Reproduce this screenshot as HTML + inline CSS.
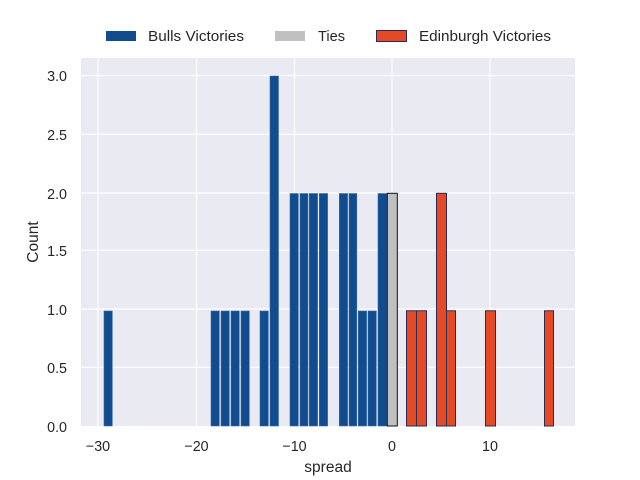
<!DOCTYPE html>
<html><head><style>body{margin:0;background:#fff}svg{display:block}</style></head><body>
<svg width="640" height="480" xmlns="http://www.w3.org/2000/svg" font-family="Liberation Sans, sans-serif">
<rect x="81" y="58" width="494" height="368" fill="#eaeaf2"/>
<g stroke="#fff" stroke-width="1.2">
<line x1="98" y1="58" x2="98" y2="426"/><line x1="196.5" y1="58" x2="196.5" y2="426"/><line x1="294.5" y1="58" x2="294.5" y2="426"/><line x1="392" y1="58" x2="392" y2="426"/><line x1="490" y1="58" x2="490" y2="426"/>
<line x1="81" y1="367.3" x2="575" y2="367.3"/><line x1="81" y1="309" x2="575" y2="309"/><line x1="81" y1="250.3" x2="575" y2="250.3"/><line x1="81" y1="193" x2="575" y2="193"/><line x1="81" y1="134.3" x2="575" y2="134.3"/><line x1="81" y1="75.5" x2="575" y2="75.5"/>
</g>
<g fill="#114d8e" stroke="#3d6ea6" stroke-width="0.6">
<rect x="104" y="311" width="8.3" height="115"/>
<rect x="211" y="311" width="8.3" height="115"/><rect x="221" y="311" width="8.3" height="115"/><rect x="231" y="311" width="8.3" height="115"/><rect x="241" y="311" width="8.3" height="115"/>
<rect x="260" y="311" width="8.3" height="115"/><rect x="270" y="76" width="8.5" height="350"/>
<rect x="290" y="193.5" width="8.3" height="232.5"/><rect x="300" y="193.5" width="8" height="232.5"/><rect x="309.3" y="193.5" width="8.3" height="232.5"/><rect x="319.3" y="193.5" width="8.3" height="232.5"/>
<rect x="339.3" y="193.5" width="8.3" height="232.5"/><rect x="349" y="193.5" width="7.8" height="232.5"/>
<rect x="358.3" y="311" width="8.3" height="115"/><rect x="368" y="311" width="8.3" height="115"/>
<rect x="378" y="193.5" width="9" height="232.5"/>
</g>
<rect x="387.3" y="193.3" width="10" height="232.7" fill="#c0c0c0" stroke="#111" stroke-width="1"/>
<g fill="#e64a25" stroke="#2a2a55" stroke-width="1">
<rect x="406.5" y="310.8" width="10" height="115.2"/><rect x="416.5" y="310.8" width="10" height="115.2"/>
<rect x="436.5" y="193.3" width="10" height="232.7"/><rect x="446.5" y="310.8" width="9" height="115.2"/>
<rect x="485.5" y="310.8" width="10" height="115.2"/><rect x="544.5" y="310.8" width="9" height="115.2"/>
</g>
<g font-size="14.3" fill="#262626" text-anchor="end">
<text x="67" y="432">0.0</text><text x="67" y="373">0.5</text><text x="67" y="315">1.0</text><text x="67" y="256">1.5</text><text x="67" y="199">2.0</text><text x="67" y="140">2.5</text><text x="67" y="81">3.0</text>
</g>
<g font-size="14.3" fill="#262626" text-anchor="middle">
<text x="98" y="451">−30</text><text x="196.5" y="451">−20</text><text x="294.5" y="451">−10</text><text x="392" y="451">0</text><text x="490" y="451">10</text>
<text x="328" y="472" font-size="15.5">spread</text>
</g>
<text transform="translate(38,242) rotate(-90)" font-size="15.5" fill="#262626" text-anchor="middle">Count</text>
<rect x="106" y="31" width="30" height="10" fill="#114d8e"/>
<rect x="275" y="31" width="30" height="10" fill="#c0c0c0"/>
<rect x="376.5" y="30.5" width="30" height="11" fill="#e64a25" stroke="#2a2a55" stroke-width="1"/>
<g font-size="14.3" fill="#262626">
<text x="148" y="41" textLength="96" lengthAdjust="spacingAndGlyphs">Bulls Victories</text><text x="318" y="41" textLength="27" lengthAdjust="spacingAndGlyphs">Ties</text><text x="419" y="41" textLength="132" lengthAdjust="spacingAndGlyphs">Edinburgh Victories</text>
</g>
</svg>
</body></html>
